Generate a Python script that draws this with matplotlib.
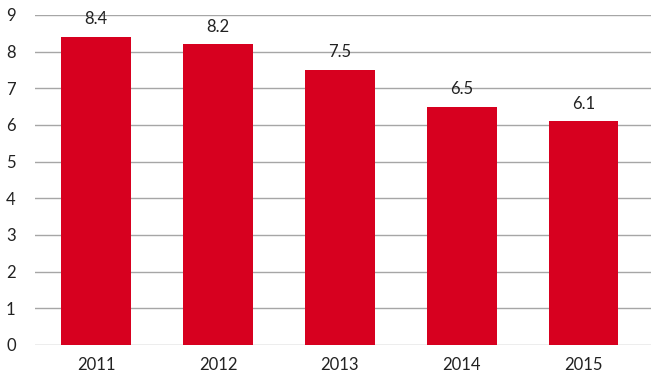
import matplotlib.pyplot as plt
import numpy as np

plt.rcParams['font.family'] = ['Lato', 'DejaVu Sans']

years = ['2011', '2012', '2013', '2014', '2015']
values = [8.4, 8.2, 7.5, 6.5, 6.1]
yticks = [0, 1, 2, 3, 4, 5, 6, 7, 8, 9]

fig = plt.figure(figsize=(6.62, 3.82), dpi=100)
ax = fig.add_axes([0.053, 0.097, 0.93, 0.864])

x = np.arange(len(years))
bars = ax.bar(x, values, width=0.57, color='#D7001F', zorder=3)

for b, v in zip(bars, values):
    ax.annotate(f'{v:.1f}', (b.get_x() + b.get_width() / 2, v),
                xytext=(0, 7), textcoords='offset points',
                ha='center', va='bottom', fontsize=12, color='#222222')

ax.set_ylim(0, 9)
ax.set_xlim(-0.5, len(years) - 0.45)
ax.set_yticks(yticks)
ax.set_xticks(x)
ax.set_xticklabels(years)
ax.yaxis.grid(True, color='#A6A6A6', linewidth=1, zorder=0)
for s in ax.spines.values():
    s.set_visible(False)
ax.tick_params(axis='both', length=0, labelsize=12, colors='#222222')
ax.tick_params(axis='x', pad=9)
ax.tick_params(axis='y', pad=14)

fig.savefig('out.png', dpi=100)
